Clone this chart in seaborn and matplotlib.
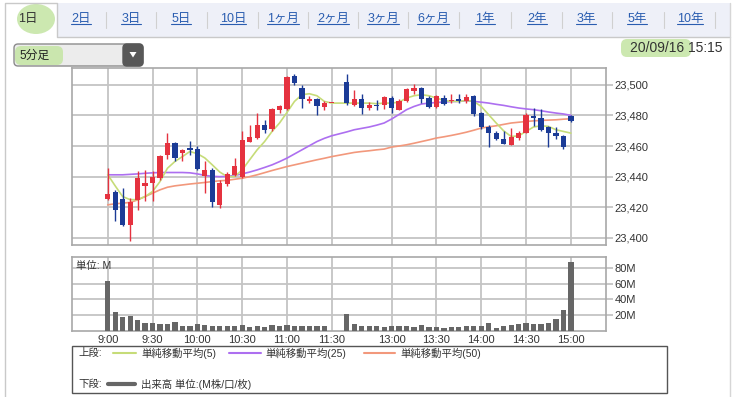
import numpy as np
import pandas as pd
import matplotlib
matplotlib.use("Agg")
import matplotlib.pyplot as plt
import seaborn as sns
from matplotlib.patches import Rectangle, FancyBboxPatch, Polygon, Ellipse

W, H = 736, 397

# 1. Data (5-minute bars, 2020/09/16)
am_times = pd.date_range("2020-09-16 09:00", "2020-09-16 11:30", freq="5min")
pm_times = pd.date_range("2020-09-16 12:30", "2020-09-16 15:00", freq="5min")
times = [f"{t.hour}:{t.minute:02d}" for t in am_times.append(pm_times)]

opens = [23425.4, 23429.8, 23425.4, 23408.7, 23425.0, 23434.1, 23435.9, 23439.1, 23454.3, 23462.0,
         23455.4, 23458.7, 23458.0, 23440.6, 23444.4, 23421.6, 23435.3, 23441.2, 23440.0, 23462.9,
         23465.2, 23473.9, 23471.0, 23483.7, 23484.1, 23505.9, 23497.8, 23489.1, 23490.6, 23485.4, 23488.0,
         23501.5, 23486.9, 23490.6, 23484.8, 23486.9, 23486.9, 23491.3, 23483.7, 23489.1, 23495.6,
         23497.8, 23491.3, 23485.4, 23491.3, 23489.1, 23490.6, 23489.1, 23492.8, 23481.5, 23472.4,
         23468.4, 23464.5, 23460.8, 23465.2, 23468.8, 23479.3, 23478.2, 23472.4, 23468.8, 23466.7, 23479.7]
highs = [23445.7, 23431.5, 23432.6, 23426.0, 23443.5, 23444.6, 23443.5, 23454.3, 23468.5, 23462.4,
         23458.0, 23463.0, 23460.2, 23450.0, 23445.7, 23437.9, 23443.3, 23452.1, 23469.9, 23473.9,
         23481.5, 23477.1, 23484.8, 23486.9, 23505.4, 23507.2, 23500.0, 23492.4, 23491.3, 23489.1, 23488.0,
         23507.2, 23496.7, 23494.1, 23488.7, 23490.2, 23492.4, 23492.8, 23490.6, 23497.8, 23500.6,
         23498.5, 23492.8, 23493.5, 23493.0, 23494.0, 23494.0, 23494.1, 23493.5, 23481.9, 23473.9,
         23470.1, 23470.1, 23471.7, 23469.5, 23481.5, 23484.8, 23484.1, 23472.9, 23472.4, 23467.3, 23480.4]
lows = [23425.0, 23410.9, 23407.6, 23397.8, 23418.5, 23423.9, 23423.9, 23438.0, 23451.5, 23450.0,
        23450.0, 23454.3, 23444.6, 23429.3, 23420.5, 23419.4, 23434.0, 23440.1, 23439.0, 23462.3,
        23464.5, 23468.4, 23470.1, 23481.5, 23483.7, 23500.0, 23484.8, 23488.0, 23480.4, 23483.7, 23488.0,
        23487.0, 23486.3, 23481.0, 23483.2, 23483.2, 23484.1, 23481.5, 23483.2, 23488.5, 23494.1,
        23488.0, 23484.8, 23484.8, 23487.0, 23488.0, 23488.0, 23488.0, 23479.3, 23471.0, 23459.3,
        23463.6, 23461.4, 23460.8, 23463.6, 23468.4, 23472.9, 23470.1, 23459.3, 23464.5, 23458.0, 23475.4]
closes = [23428.9, 23418.5, 23408.7, 23423.3, 23439.1, 23435.9, 23439.8, 23453.7, 23462.0, 23452.2,
          23457.2, 23457.2, 23445.0, 23444.6, 23423.7, 23435.7, 23441.8, 23447.1, 23464.1, 23466.2,
          23473.9, 23470.6, 23484.1, 23485.8, 23505.0, 23501.1, 23490.6, 23490.6, 23485.8, 23488.0, 23488.0,
          23488.0, 23490.6, 23484.8, 23486.9, 23485.8, 23491.7, 23484.8, 23489.1, 23497.2, 23497.8,
          23490.6, 23485.4, 23492.8, 23487.6, 23489.7, 23489.1, 23492.0, 23481.0, 23472.4, 23468.8,
          23464.5, 23461.4, 23466.2, 23468.4, 23480.4, 23478.2, 23470.6, 23468.8, 23466.7, 23459.3, 23476.0]
volumes = [63.5, 23.6, 17.7, 19.4, 13.5, 10.5, 10.1, 8.9, 8.9, 11.4,
           5.9, 5.9, 9.3, 8.0, 5.9, 6.8, 5.9, 5.9, 7.2, 5.5,
           5.9, 5.1, 8.0, 6.3, 8.0, 5.9, 6.8, 5.9, 5.9, 5.9, 0.0,
           21.1, 8.9, 6.8, 6.8, 6.8, 5.5, 6.8, 5.9, 5.9, 4.6,
           7.2, 4.6, 4.6, 3.4, 4.6, 5.1, 5.9, 5.9, 5.9, 10.1,
           4.2, 6.8, 8.0, 8.9, 10.5, 8.9, 8.9, 10.5, 14.8, 26.6, 87.0]
ma5 = [23441.3, 23434.0, 23427.0, 23425.0, 23425.0, 23427.0, 23430.3, 23436.8, 23445.5, 23449.9,
       23453.1, 23456.4, 23455.0, 23452.2, 23447.7, 23443.0, 23440.0, 23440.1, 23444.4, 23451.0,
       23457.5, 23462.9, 23469.5, 23475.0, 23481.9, 23489.1, 23493.5, 23494.1, 23492.8, 23489.1, 23488.0,
       23488.0, 23488.0, 23488.0, 23488.0, 23487.6, 23488.0, 23488.0, 23488.6, 23491.3, 23492.8,
       23493.5, 23492.8, 23491.3, 23489.7, 23489.1, 23489.1, 23489.7, 23489.1, 23485.8, 23480.4,
       23475.0, 23469.9, 23466.2, 23466.6, 23469.5, 23472.4, 23473.2, 23472.8, 23470.6, 23469.5, 23468.4]
ma25 = [23441.2, 23441.2, 23441.2, 23441.5, 23441.8, 23442.2, 23442.5, 23442.7, 23442.7, 23442.7,
        23442.7, 23442.5, 23441.8, 23440.8, 23440.2, 23440.0, 23440.2, 23440.8, 23441.8, 23443.0,
        23444.4, 23446.0, 23447.7, 23449.8, 23452.1, 23454.8, 23457.5, 23460.2, 23462.9, 23465.0, 23466.7,
        23469.2, 23470.6, 23471.5, 23472.4, 23473.6, 23475.0, 23477.6, 23480.6, 23483.7, 23485.8,
        23487.4, 23488.0, 23488.4, 23488.7, 23489.0, 23489.1, 23489.5, 23489.1, 23488.6, 23488.0,
        23487.2, 23486.5, 23485.6, 23484.8, 23484.2, 23483.7, 23483.0, 23482.2, 23481.5, 23480.9, 23480.0]
ma50 = [23421.6, 23422.3, 23422.7, 23423.2, 23424.8, 23427.0, 23429.2, 23431.4, 23433.1, 23434.0,
        23434.6, 23435.2, 23435.7, 23436.2, 23436.8, 23437.3, 23437.6, 23438.3, 23439.0, 23440.0,
        23441.2, 23442.6, 23444.0, 23445.3, 23446.6, 23447.7, 23448.8, 23449.9, 23451.0, 23452.0, 23453.1,
        23454.9, 23455.8, 23456.4, 23456.9, 23457.5, 23458.0, 23459.3, 23460.0, 23460.8, 23461.8,
        23462.9, 23464.0, 23465.2, 23466.0, 23466.9, 23467.9, 23469.0, 23470.3, 23471.7, 23472.5,
        23473.2, 23474.1, 23475.0, 23475.5, 23476.0, 23476.4, 23476.7, 23476.9, 23477.1, 23477.5, 23477.8]

tick_times = ["9:00", "9:30", "10:00", "10:30", "11:00", "11:30", "13:00", "13:30", "14:00", "14:30", "15:00"]
price_ticks = [23400, 23420, 23440, 23460, 23480, 23500]
volume_ticks = [20, 40, 60, 80]
tabs = ["1日", "2日", "3日", "5日", "10日", "1ヶ月", "2ヶ月", "3ヶ月", "6ヶ月", "1年", "2年", "3年", "5年", "10年"]


def slot(t):
    # morning session on slots 0-30, lunch gap, afternoon from slot 32
    h, m = map(int, t.split(":"))
    mins = h * 60 + m
    if mins <= 11 * 60 + 30:
        return (mins - 9 * 60) / 5
    return 32 + (mins - (12 * 60 + 30)) / 5


df = pd.DataFrame({"time": times, "open": opens, "high": highs, "low": lows, "close": closes,
                   "volume": volumes, "ma5": ma5, "ma25": ma25, "ma50": ma50})
df["x"] = df["time"].map(slot)

RED, BLUE = "#e5323f", "#1b3b96"
C5, C25, C50 = "#c6dc78", "#ad6ff0", "#f2987c"
GRID, SPINE = "#c4c4c4", "#a8a8a8"

sns.set_style("white")
plt.rcParams["font.family"] = ["Liberation Sans", "Noto Sans CJK JP"]

fig = plt.figure(figsize=(W / 100, H / 100), dpi=100)

# 2. Page decorations in pixel coordinates
bg = fig.add_axes([0, 0, 1, 1], zorder=0)
bg.set_xlim(0, W)
bg.set_ylim(H, 0)
bg.axis("off")

bg.add_patch(Rectangle((5, 3), 725, 34, fc="#eef0f8", ec="none"))
bg.add_patch(Rectangle((5, 3), 52, 35, fc="white", ec="none"))
bg.plot([5, 5, 57, 57, 730], [397, 3, 3, 37, 37], color="#c9c9c9", lw=1)
bg.plot([730, 730], [3, 397], color="#d6d6d6", lw=1)
bg.add_patch(Ellipse((36, 19), 38, 30, fc="#c7e6a8", ec="none", alpha=0.9))

tab_x = [28, 81, 131, 181, 233, 283, 333, 383, 433, 485, 537, 586, 637, 690]
tab_texts = []
for i, (label, x) in enumerate(zip(tabs, tab_x)):
    col = "#333333" if i == 0 else "#2a5db0"
    tab_texts.append(bg.text(x, 19, label, ha="center", va="center", fontsize=9, color=col))
    if i > 1:
        sep = (tab_x[i - 1] + x) / 2
        bg.plot([sep, sep], [12, 28], color="#d0d0d0", lw=0.8)
bg.plot([715, 715], [12, 28], color="#d0d0d0", lw=0.8)

# dropdown
bg.add_patch(FancyBboxPatch((14, 44), 129, 22, boxstyle="round,pad=0,rounding_size=4",
                            fc="#ececec", ec="#8c8c8c", lw=1))
bg.add_patch(FancyBboxPatch((123, 44), 20, 22, boxstyle="round,pad=0,rounding_size=4",
                            fc="#585858", ec="#585858", lw=1))
bg.add_patch(Polygon([(129.5, 52), (136.5, 52), (133, 57.5)], fc="white", ec="none"))
bg.add_patch(FancyBboxPatch((15, 46), 48, 19, boxstyle="round,pad=0,rounding_size=6",
                            fc="#c7e6a8", ec="none", alpha=0.9))
bg.text(19, 55.5, "5分足", ha="left", va="center", fontsize=8.5, color="#222222")

# date
bg.add_patch(FancyBboxPatch((621, 39), 70, 18, boxstyle="round,pad=0,rounding_size=6",
                            fc="#c7e6a8", ec="none", alpha=0.9))
bg.text(722, 47.5, "20/09/16 15:15", ha="right", va="center", fontsize=10, color="#333333")

# legend box
bg.add_patch(Rectangle((72, 346), 595, 47, fill=False, ec="#555555", lw=1))
bg.text(78, 353, "上段:", ha="left", va="center", fontsize=7.5, color="#333333")
bg.plot([113, 136], [353, 353], color=C5, lw=1.5)
bg.text(141, 353, "単純移動平均(5)", ha="left", va="center", fontsize=7.5, color="#333333")
bg.plot([229, 261], [353, 353], color=C25, lw=1.5)
bg.text(265, 353, "単純移動平均(25)", ha="left", va="center", fontsize=7.5, color="#333333")
bg.plot([364, 395], [353, 353], color=C50, lw=1.5)
bg.text(400, 353, "単純移動平均(50)", ha="left", va="center", fontsize=7.5, color="#333333")
bg.text(78, 384, "下段:", ha="left", va="center", fontsize=7.5, color="#333333")
bg.plot([108, 135], [384, 384], color="#666666", lw=3)
bg.text(141, 384, "出来高 単位:(M株/口/枚)", ha="left", va="center", fontsize=7.5, color="#333333")

# 3. Price panel
ax = fig.add_axes([72 / W, 1 - 245 / H, (606 - 72) / W, (245 - 68) / H], zorder=1)
axv = fig.add_axes([72 / W, 1 - 331 / H, (606 - 72) / W, (331 - 257) / H], zorder=1)

colors = np.where(df["close"] >= df["open"], RED, BLUE)
sns.lineplot(data=df, x="x", y="ma50", ax=ax, color=C50, lw=1.2, zorder=2)
sns.lineplot(data=df, x="x", y="ma25", ax=ax, color=C25, lw=1.2, zorder=2)
sns.lineplot(data=df, x="x", y="ma5", ax=ax, color=C5, lw=1.2, zorder=2)
ax.vlines(df["x"], df["low"], df["high"], colors=colors, lw=1, zorder=3)
body = (df["close"] - df["open"]).abs().clip(lower=0.7)
ax.bar(df["x"], body, bottom=df[["open", "close"]].min(axis=1), width=0.7,
       color=colors, lw=0, zorder=4)

# 4. Volume panel
sns.barplot(data=df, x="x", y="volume", native_scale=True, width=0.7, color="#666666",
            saturation=1, errorbar=None, ax=axv, lw=0, zorder=3)

tick_pos = [slot(t) for t in tick_times]
for a in (ax, axv):
    a.set_xlim(-4.78, 66.7)
    a.set_xticks(tick_pos)
    a.set_xlabel("")
    a.set_ylabel("")
    a.yaxis.tick_right()
    a.grid(True, color=GRID, lw=1.3, zorder=0)
    a.set_axisbelow(True)
    for s in a.spines.values():
        s.set_color(SPINE)
        s.set_linewidth(1.2)
    a.tick_params(axis="y", length=5, width=1.3, color=GRID, pad=1, labelsize=8, labelcolor="#333333")
    a.tick_params(axis="x", length=0, pad=3, labelsize=8, labelcolor="#333333")

ax.set_ylim(23395.4, 23510.9)
ax.set_yticks(price_ticks)
ax.set_yticklabels([f"{v:,}" for v in price_ticks])
ax.set_xticklabels([])

axv.set_ylim(0, 93.7)
axv.set_yticks(volume_ticks)
axv.set_yticklabels([f"{v}M" for v in volume_ticks])
axv.set_xticklabels(tick_times)
axv.text(0.008, 0.95, "単位: M", transform=axv.transAxes, ha="left", va="top",
         fontsize=7.5, color="#333333")

# underline the link tabs
fig.canvas.draw()
renderer = fig.canvas.get_renderer()
inv = bg.transData.inverted()
for t in tab_texts[1:]:
    bb = t.get_window_extent(renderer)
    (x0, y0), (x1, _) = inv.transform([(bb.x0, bb.y0), (bb.x1, bb.y0)])
    bg.plot([x0, x1], [y0 - 1, y0 - 1], color="#2a5db0", lw=0.8)

fig.savefig("out.png", dpi=100)
